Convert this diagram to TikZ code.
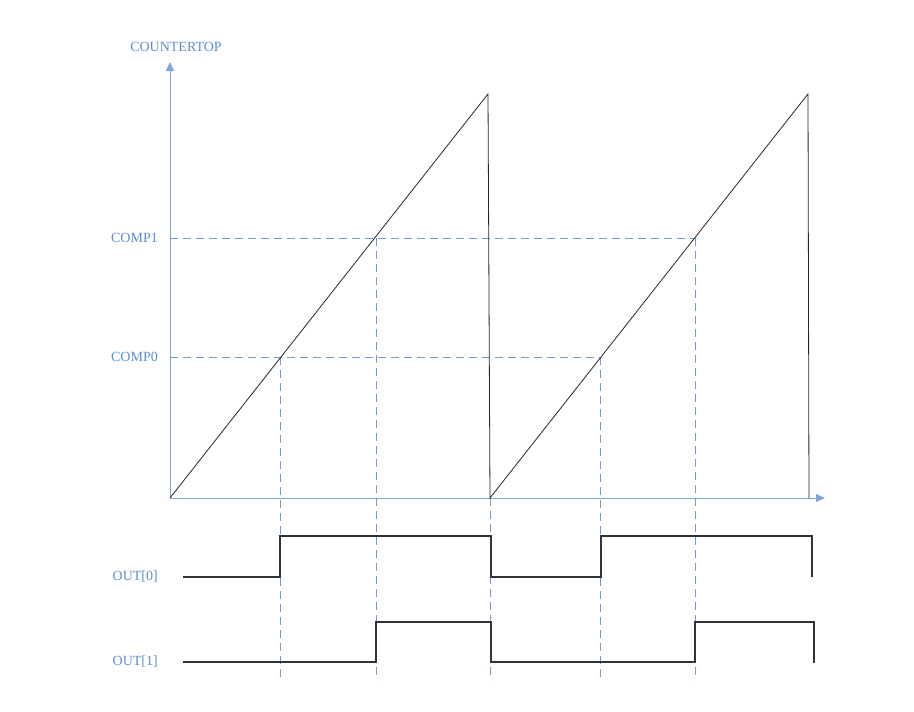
\documentclass[tikz,border=0pt]{standalone}
\usepackage{fontspec}
\setmainfont{Liberation Serif}
\usetikzlibrary{arrows.meta}
\definecolor{lblue}{HTML}{5B8DCF}
\definecolor{axblue}{HTML}{7FA6DA}
\definecolor{gblue}{HTML}{6E9BD8}
\begin{document}
\begin{tikzpicture}[x=1pt,y=-1pt,
  lbl/.style={text=lblue,font=\fontsize{14}{16}\selectfont,inner sep=0pt},
  axis/.style={draw=axblue,line width=1pt,-{Triangle[length=9pt,width=8pt]}},
  guide/.style={draw=gblue,line width=1pt,dash pattern=on 8pt off 5pt},
  ramp/.style={draw=black!85,line width=0.8pt},
  sig/.style={draw=black!80,line width=1.5pt}]
\useasboundingbox (0,0) rectangle (914,712);
% axes
\coordinate (O) at (170,498);
\coordinate (Ytop) at (170,62);
\coordinate (Xend) at (825,498);
\draw[axis] (O) -- (Ytop);
\draw[axis] (O) -- (Xend);
% labels
\node[lbl] (ct) at (176,47) {COUNTERTOP};
\node[lbl,anchor=east] (c1) at (158,238) {COMP1};
\node[lbl,anchor=east] (c0) at (158,357) {COMP0};
\node[lbl,anchor=east] (o0) at (158,577) {OUT[0]};
\node[lbl,anchor=east] (o1) at (158,662) {OUT[1]};
% key points
\coordinate (P1) at (488,94);
\coordinate (R1) at (490,498);
\coordinate (P2) at (808,94);
\coordinate (R2) at (809,498);
\coordinate (A0) at (280,357);
\coordinate (A1) at (376,238);
\coordinate (B0) at (600,357);
\coordinate (B1) at (695,238);
\coordinate (L1) at (170,238);
\coordinate (L0) at (170,357);
% guides
\draw[guide] (L1) -- (B1);
\draw[guide] (L0) -- (B0);
\draw[guide] (A0) -- (280,680);
\draw[guide] (A1) -- (376,680);
\draw[guide] (R1) -- (490,680);
\draw[guide] (B0) -- (600,680);
\draw[guide] (B1) -- (695,680);
% sawtooth
\draw[ramp] (O) -- (P1) -- (R1) -- (P2) -- (R2);
% outputs
\draw[sig] (183,577) -- (280,577) -- (280,536) -- (491,536) -- (491,577) -- (601,577) -- (601,536) -- (812,536) -- (812,577);
\draw[sig] (183,662) -- (376,662) -- (376,622) -- (491,622) -- (491,662) -- (695,662) -- (695,622) -- (814,622) -- (814,663);
\end{tikzpicture}
\end{document}
